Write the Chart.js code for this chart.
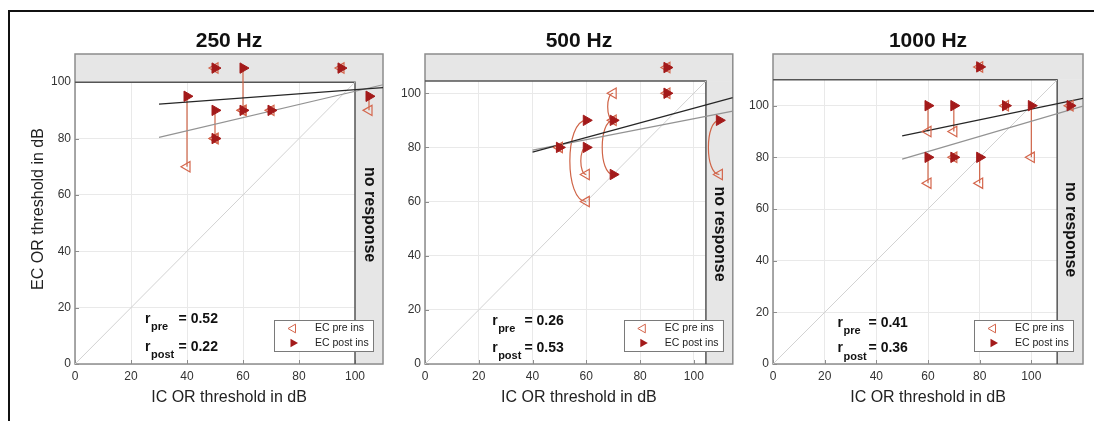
<!DOCTYPE html>
<html>
<head>
<meta charset="utf-8">
<script src="https://cdn.jsdelivr.net/npm/chart.js@4.4.1/dist/chart.umd.min.js"></script>
<style>
  html, body { margin: 0; padding: 0; background: #fff; }
  #wrap { position: relative; width: 1094px; height: 421px; overflow: hidden; }
  #frame { position: absolute; left: 8px; top: 10px; right: 0; bottom: 0;
           border-left: 2px solid #111; border-top: 2px solid #111; }
  canvas { position: absolute; top: 0; }
</style>
</head>
<body>
<div id="wrap">
  <div id="frame"></div>
  <canvas id="c250" width="392" height="421" style="left:0px"></canvas>
  <canvas id="c500" width="345" height="421" style="left:395px"></canvas>
  <canvas id="c1000" width="354" height="421" style="left:740px"></canvas>
</div>
<script>
const tickVals = [0, 20, 40, 60, 80, 100];

// 250 Hz: IC threshold per ear, EC threshold before / after insertion
const ic250      = [40, 50, 60, 60, 50, 50, 70, 95, 105];
const ecPre250   = [70, 105, 90, 90, 80, 80, 90, 105, 90];
const ecPost250  = [95, 105, 105, 90, 90, 80, 90, 105, 95];
const fitX250    = [30, 110];
const fitPre250  = [80.4, 99.1];
const fitPost250 = [92.2, 98.1];
const rVals250   = [0.52, 0.22];

// 500 Hz
const ic500      = [50, 60, 60, 70, 70, 90, 90, 109.5];
const ecPre500   = [80, 60, 70, 100, 90, 109.5, 100, 70];
const ecPost500  = [80, 90, 80, 90, 70, 109.5, 100, 90];
const fitX500    = [40, 114.5];
const fitPre500  = [79, 93.4];
const fitPost500 = [78.3, 98.4];
const rVals500   = [0.26, 0.53];

// 1000 Hz
const ic1000      = [80, 60, 70, 90, 100, 115, 60, 70, 80];
const ecPre1000   = [115, 90, 90, 100, 80, 100, 70, 80, 70];
const ecPost1000  = [115, 100, 100, 100, 100, 100, 80, 80, 80];
const fitX1000    = [50, 120];
const fitPre1000  = [79.3, 99.8];
const fitPost1000 = [88.3, 102.8];
const rVals1000   = [0.41, 0.36];

const preColor = '#d4664c';
const postColor = '#a31a1a';
const linkColor = '#cf6447';
const FONT = '"Liberation Sans", Arial, Helvetica, sans-serif';

Chart.defaults.font.family = FONT;

const panels = [
  { id: 'c250', title: '250 Hz', ic: ic250, pre: ecPre250, post: ecPost250,
    fitX: fitX250, fitPre: fitPre250, fitPost: fitPost250, r: rVals250,
    cut: 100, max: 110, curved: false, areaLeft: 75, padRight: 9, nrY: 53, yTitle: true },
  { id: 'c500', title: '500 Hz', ic: ic500, pre: ecPre500, post: ecPost500,
    fitX: fitX500, fitPre: fitPre500, fitPost: fitPost500, r: rVals500,
    cut: 104.5, max: 114.5, curved: true, areaLeft: 30, padRight: 7, nrY: 48, yTitle: false },
  { id: 'c1000', title: '1000 Hz', ic: ic1000, pre: ecPre1000, post: ecPost1000,
    fitX: fitX1000, fitPre: fitPre1000, fitPost: fitPost1000, r: rVals1000,
    cut: 110, max: 120, curved: false, areaLeft: 33, padRight: 11, nrY: 52, yTitle: false }
];

// triangle marker, dir 1 = pointing right, -1 = pointing left
function tri(ctx, x, y, r, dir) {
  ctx.beginPath();
  ctx.moveTo(x + dir * r, y);
  ctx.lineTo(x - dir * r * 0.5, y - r * 0.866);
  ctx.lineTo(x - dir * r * 0.5, y + r * 0.866);
  ctx.closePath();
}

function makeDecor(p) {
  return {
    id: 'decor',
    beforeDatasetsDraw(chart) {
      const { ctx, chartArea: a, scales: { x, y } } = chart;
      const cx = x.getPixelForValue(p.cut);
      const cy = y.getPixelForValue(p.cut);
      ctx.save();
      // "no response" band along top and right
      ctx.fillStyle = '#e6e6e6';
      ctx.fillRect(a.left, a.top, a.right - a.left, cy - a.top);
      ctx.fillRect(cx, cy, a.right - cx, a.bottom - cy);

      // small inward ticks
      ctx.strokeStyle = '#8c8c8c';
      ctx.lineWidth = 1;
      ctx.beginPath();
      tickVals.forEach(v => {
        const px = Math.round(x.getPixelForValue(v)) + 0.5;
        ctx.moveTo(px, a.bottom);
        ctx.lineTo(px, a.bottom - 4);
        const py = Math.round(y.getPixelForValue(v)) + 0.5;
        ctx.moveTo(a.left, py);
        ctx.lineTo(a.left + 4, py);
      });
      ctx.stroke();

      ctx.lineWidth = 1.5;
      ctx.strokeRect(a.left, a.top, a.right - a.left, a.bottom - a.top);
      ctx.strokeStyle = '#555';
      ctx.beginPath();
      ctx.moveTo(a.left, cy);
      ctx.lineTo(cx, cy);
      ctx.lineTo(cx, a.bottom);
      ctx.stroke();

      // pre -> post links
      ctx.strokeStyle = linkColor;
      ctx.lineWidth = 1.2;
      p.ic.forEach((v, i) => {
        if (p.pre[i] === p.post[i]) return;
        const px = x.getPixelForValue(v);
        const y0 = y.getPixelForValue(p.pre[i]);
        const y1 = y.getPixelForValue(p.post[i]);
        ctx.beginPath();
        ctx.moveTo(px, y0);
        if (p.curved) {
          const k = 0.27 * Math.abs(y1 - y0);
          ctx.bezierCurveTo(px - k, y0, px - k, y1, px, y1);
        } else {
          ctx.lineTo(px, y1);
        }
        ctx.stroke();
      });
      ctx.restore();
    },
    afterDraw(chart) {
      const { ctx, chartArea: a, scales: { x, y } } = chart;
      ctx.save();
      // title
      ctx.fillStyle = '#111';
      ctx.font = 'bold 21px ' + FONT;
      ctx.textAlign = 'center';
      ctx.textBaseline = 'middle';
      ctx.fillText(p.title, (a.left + a.right) / 2, 41);

      // no response label
      ctx.save();
      ctx.translate(x.getPixelForValue((p.cut + p.max) / 2), y.getPixelForValue(p.nrY));
      ctx.rotate(Math.PI / 2);
      ctx.font = 'bold 16px ' + FONT;
      ctx.fillText('no response', 0, 0);
      ctx.restore();

      // correlation coefficients
      const rx = x.getPixelForValue(25);
      const ex = x.getPixelForValue(37);
      [['pre', p.r[0], 16], ['post', p.r[1], 6]].forEach(([sub, val, yv]) => {
        const py = y.getPixelForValue(yv);
        ctx.textAlign = 'left';
        ctx.font = 'bold 14px ' + FONT;
        ctx.fillText('r', rx, py);
        const rw = ctx.measureText('r').width;
        ctx.font = 'bold 11px ' + FONT;
        ctx.fillText(sub, rx + rw + 0.5, py + 8);
        ctx.font = 'bold 14px ' + FONT;
        ctx.fillText('= ' + val.toFixed(2), ex, py);
      });

      // legend
      const lw = 99, lh = 31;
      const lx = a.right - 10 - lw;
      const ly = a.bottom - 13 - lh;
      ctx.fillStyle = '#fff';
      ctx.fillRect(lx, ly, lw, lh);
      ctx.strokeStyle = '#7a7a7a';
      ctx.lineWidth = 1;
      ctx.strokeRect(Math.round(lx) + 0.5, Math.round(ly) + 0.5, lw, lh);
      ctx.font = '10.5px ' + FONT;
      ctx.textAlign = 'left';
      ctx.textBaseline = 'middle';
      tri(ctx, lx + 19, ly + 8.5, 5, -1);
      ctx.fillStyle = '#fff';
      ctx.fill();
      ctx.strokeStyle = preColor;
      ctx.stroke();
      tri(ctx, lx + 19, ly + 23, 5, 1);
      ctx.fillStyle = postColor;
      ctx.fill();
      ctx.fillStyle = '#222';
      ctx.fillText('EC pre ins', lx + 41, ly + 8.5);
      ctx.fillText('EC post ins', lx + 41, ly + 23);
      ctx.restore();
    }
  };
}

panels.forEach(p => {
  const pts = (xs, ys) => xs.map((v, i) => ({ x: v, y: ys[i] }));
  new Chart(document.getElementById(p.id), {
    type: 'scatter',
    data: {
      datasets: [
        {
          label: 'EC post ins',
          data: pts(p.ic, p.post),
          pointStyle: 'triangle',
          rotation: 90,
          radius: 6,
          backgroundColor: postColor,
          borderColor: postColor,
          borderWidth: 1
        },
        {
          label: 'EC pre ins',
          data: pts(p.ic, p.pre),
          pointStyle: 'triangle',
          rotation: -90,
          radius: 6,
          backgroundColor: 'rgba(255,255,255,0)',
          borderColor: preColor,
          borderWidth: 1.2
        },
        {
          label: 'fit post',
          data: pts(p.fitX, p.fitPost),
          showLine: true,
          pointRadius: 0,
          borderColor: '#262626',
          borderWidth: 1.3
        },
        {
          label: 'fit pre',
          data: pts(p.fitX, p.fitPre),
          showLine: true,
          pointRadius: 0,
          borderColor: '#939393',
          borderWidth: 1.2
        },
        {
          label: 'identity',
          data: [{ x: 0, y: 0 }, { x: p.cut, y: p.cut }],
          showLine: true,
          pointRadius: 0,
          borderColor: '#d2d2d2',
          borderWidth: 1
        }
      ]
    },
    options: {
      responsive: false,
      animation: false,
      events: [],
      layout: { padding: { left: 0, top: 54, right: p.padRight, bottom: 0 } },
      plugins: {
        legend: { display: false },
        tooltip: { enabled: false },
        title: { display: false }
      },
      scales: {
        x: {
          type: 'linear',
          min: 0,
          max: p.max,
          afterBuildTicks: s => { s.ticks = tickVals.map(v => ({ value: v })); },
          afterFit: s => { s.height = 57; },
          grid: { color: '#e9e9e9', drawTicks: false },
          border: { display: false },
          ticks: { padding: 5, color: '#333', font: { size: 12 }, maxRotation: 0, autoSkip: false },
          title: {
            display: true,
            text: 'IC OR threshold in dB',
            color: '#222',
            font: { size: 16 },
            padding: { top: 0, bottom: 14 }
          }
        },
        y: {
          type: 'linear',
          min: 0,
          max: p.max,
          afterBuildTicks: s => { s.ticks = tickVals.map(v => ({ value: v })); },
          afterFit: s => { s.width = p.areaLeft; },
          grid: { color: '#e9e9e9', drawTicks: false },
          border: { display: false },
          ticks: { padding: 4, color: '#333', font: { size: 12 }, autoSkip: false },
          title: {
            display: p.yTitle,
            text: 'EC OR threshold in dB',
            color: '#222',
            font: { size: 16 },
            padding: { top: 29, bottom: 0 }
          }
        }
      }
    },
    plugins: [makeDecor(p)]
  });
});
</script>
</body>
</html>
